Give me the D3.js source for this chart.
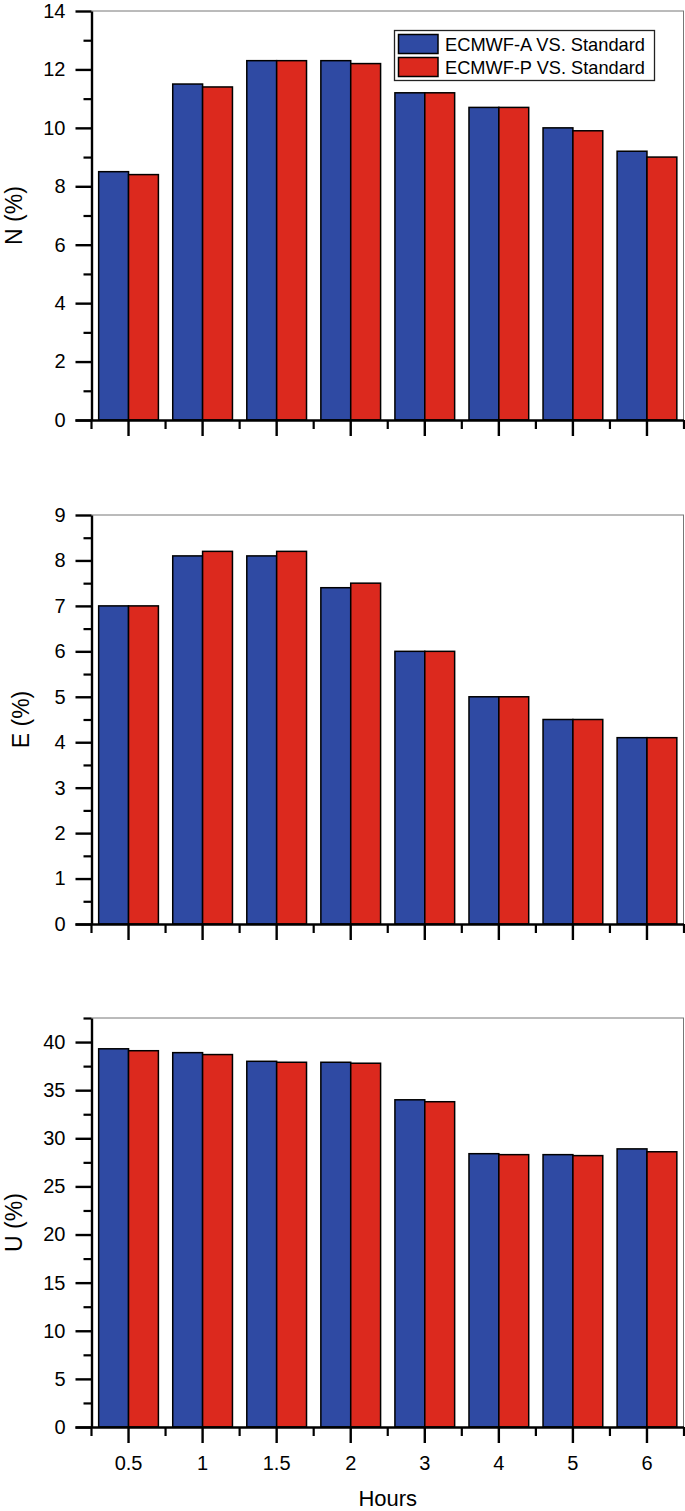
<!DOCTYPE html>
<html>
<head>
<meta charset="utf-8">
<script src="https://cdn.jsdelivr.net/npm/d3@7"></script>
<style>
  html, body { margin: 0; padding: 0; background: #fff; }
  svg { display: block; font-family: "Liberation Sans", Arial, sans-serif; }
</style>
</head>
<body>
<svg id="chart" width="685" height="1511"></svg>
<script>
const categories = ["0.5", "1", "1.5", "2", "3", "4", "5", "6"];
const seriesNames = ["ECMWF-A VS. Standard", "ECMWF-P VS. Standard"];
const seriesColors = ["#2f4aa3", "#dc291e"];

const nA = [8.5, 11.5, 12.3, 12.3, 11.2, 10.7, 10.0, 9.2];
const nP = [8.4, 11.4, 12.3, 12.2, 11.2, 10.7, 9.9, 9.0];
const eA = [7.0, 8.1, 8.1, 7.4, 6.0, 5.0, 4.5, 4.1];
const eP = [7.0, 8.2, 8.2, 7.5, 6.0, 5.0, 4.5, 4.1];
const uA = [39.3, 38.9, 38.0, 37.9, 34.0, 28.4, 28.3, 28.9];
const uP = [39.1, 38.7, 37.9, 37.8, 33.8, 28.3, 28.2, 28.6];

const nTicks = [0, 2, 4, 6, 8, 10, 12, 14];
const eTicks = [0, 1, 2, 3, 4, 5, 6, 7, 8, 9];
const uTicks = [0, 5, 10, 15, 20, 25, 30, 35, 40];

const panels = [
  { title: "N (%)", a: nA, p: nP, max: 14, ticks: nTicks, minorStep: 1, top: 11, bottom: 420, titleX: 22, xLabels: false },
  { title: "E (%)", a: eA, p: eP, max: 9, ticks: eTicks, minorStep: 0.5, top: 515, bottom: 924, titleX: 29, xLabels: false },
  { title: "U (%)", a: uA, p: uP, max: 42.5, ticks: uTicks, minorStep: 2.5, top: 1018, bottom: 1427, titleX: 22, xLabels: true }
];

const left = 91.5, right = 684;
const svg = d3.select("#chart");

const x = d3.scaleBand().domain(categories).range([left, right]).paddingInner(0).paddingOuter(0);
const xs = d3.scaleBand().domain([0, 1]).range([0, x.bandwidth()]).paddingInner(0).paddingOuter(0.24);

panels.forEach(pn => {
  const g = svg.append("g");
  const y = d3.scaleLinear().domain([0, pn.max]).range([pn.bottom, pn.top]);

  // frame (top and right)
  g.append("line").attr("x1", left).attr("x2", right).attr("y1", pn.top).attr("y2", pn.top)
    .attr("stroke", "#777").attr("stroke-width", 1);
  g.append("line").attr("x1", right - 0.5).attr("x2", right - 0.5).attr("y1", pn.top).attr("y2", pn.bottom)
    .attr("stroke", "#777").attr("stroke-width", 1);

  // bars
  const data = categories.map((c, i) => ({ c, vals: [pn.a[i], pn.p[i]] }));
  const grp = g.selectAll("g.cat").data(data).enter().append("g")
    .attr("transform", d => `translate(${x(d.c)},0)`);
  grp.selectAll("rect").data(d => d.vals.map((v, k) => ({ v, k }))).enter().append("rect")
    .attr("x", d => xs(d.k))
    .attr("width", xs.bandwidth())
    .attr("y", d => y(d.v))
    .attr("height", d => y(0) - y(d.v))
    .attr("fill", d => seriesColors[d.k])
    .attr("stroke", "#000")
    .attr("stroke-width", 1.5);

  // y minor ticks
  const minor = d3.range(0, pn.max + 1e-9, pn.minorStep).filter(v => !pn.ticks.some(t => Math.abs(t - v) < 1e-9));
  const yMinor = g.append("g").attr("transform", `translate(${left},0)`)
    .call(d3.axisLeft(y).tickValues(minor).tickSize(8).tickFormat(""));
  yMinor.select(".domain").remove();
  yMinor.selectAll("line").attr("stroke", "#000").attr("stroke-width", 2.2);

  // y major axis
  const yAx = g.append("g").attr("transform", `translate(${left},0)`)
    .call(d3.axisLeft(y).tickValues(pn.ticks).tickSize(16).tickSizeOuter(0).tickPadding(10).tickFormat(d3.format("d")));
  yAx.select(".domain").attr("stroke", "#000").attr("stroke-width", 2.4);
  yAx.selectAll("line").attr("stroke", "#000").attr("stroke-width", 2.4);
  yAx.selectAll("text").attr("font-size", 20).attr("fill", "#000")
    .attr("font-family", "'Liberation Sans', Arial, sans-serif");

  // x axis (major ticks at category centers)
  const xAx = g.append("g").attr("transform", `translate(0,${pn.bottom})`)
    .call(d3.axisBottom(x).tickSize(16).tickSizeOuter(0).tickPadding(13)
      .tickFormat(pn.xLabels ? (d => d) : ""));
  xAx.select(".domain").attr("d", `M${left - 16},0.5H${right}`).attr("stroke", "#000").attr("stroke-width", 2.4);
  xAx.selectAll("line").attr("stroke", "#000").attr("stroke-width", 2.4);
  xAx.selectAll("text").attr("font-size", 20).attr("fill", "#000")
    .attr("font-family", "'Liberation Sans', Arial, sans-serif");

  // x minor ticks at category boundaries
  const bounds = categories.map(c => x(c)).concat([right]);
  g.selectAll("line.xminor").data(bounds).enter().append("line")
    .attr("x1", d => d).attr("x2", d => d)
    .attr("y1", pn.bottom).attr("y2", pn.bottom + 9)
    .attr("stroke", "#000").attr("stroke-width", 2.2);

  // y title
  g.append("text")
    .attr("transform", `translate(${pn.titleX},${(pn.top + pn.bottom) / 2}) rotate(-90)`)
    .attr("text-anchor", "middle")
    .attr("font-size", 23)
    .text(pn.title);
});

// x title
svg.append("text").attr("x", (left + right) / 2).attr("y", 1506)
  .attr("text-anchor", "middle").attr("font-size", 22).text("Hours");

// legend
const lg = svg.append("g");
lg.append("rect").attr("x", 394.5).attr("y", 30.5).attr("width", 260).attr("height", 50)
  .attr("fill", "#fff").attr("stroke", "#222").attr("stroke-width", 1.3);
seriesNames.forEach((s, i) => {
  lg.append("rect").attr("x", 398.5).attr("y", 34.5 + i * 23).attr("width", 39.5).attr("height", 19)
    .attr("fill", seriesColors[i]).attr("stroke", "#000").attr("stroke-width", 1.5);
  lg.append("text").attr("x", 445).attr("y", 51 + i * 22.5).attr("font-size", 19)
    .attr("textLength", 200).attr("lengthAdjust", "spacingAndGlyphs").text(s);
});
</script>
</body>
</html>
